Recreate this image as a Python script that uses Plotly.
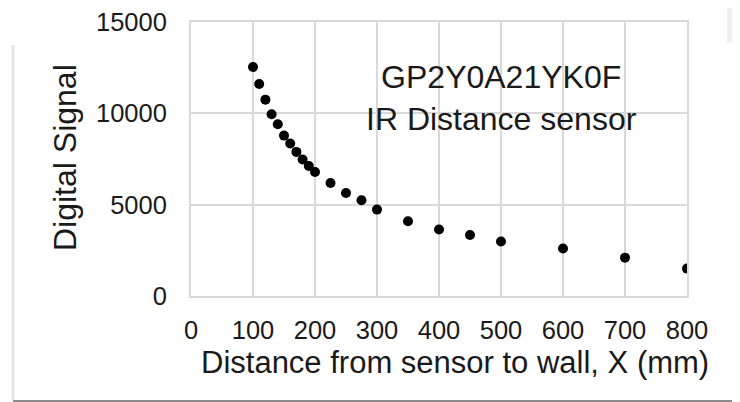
import plotly.graph_objects as go

# sensor readings (distance in mm, digital signal)
distance_mm = [100, 110, 120, 130, 140, 150, 160, 170, 180, 190, 200,
               225, 250, 275, 300, 350, 400, 450, 500, 600, 700, 800]
signal = [12540, 11610, 10750, 9950, 9400, 8780, 8350, 7890, 7470, 7120, 6790,
          6190, 5640, 5240, 4730, 4090, 3640, 3340, 2980, 2600, 2100, 1500]

x_ticks = [0, 100, 200, 300, 400, 500, 600, 700, 800]
y_ticks = [0, 5000, 10000, 15000]
y_labels = ["0", "5000", "10000", "15000"]

# the page body adds an 8px margin, so the figure is shrunk and shifted by that
OFF = 8
W, H = 740 - OFF, 402 - OFF
L, R, T, B = 191 - OFF, 53, 22 - OFF, 106
FONT = "Liberation Sans, Arial, sans-serif"


def px(x):
    return (x - OFF - L) / (W - L - R)


def py(y):
    return (H - B - (y - OFF)) / (H - T - B)


fig = go.Figure()
fig.add_scatter(x=distance_mm, y=signal, mode="markers",
                marker=dict(color="black", size=10), showlegend=False)

grid = "#d9d9d9"
fig.update_xaxes(range=[0, 800], tickvals=x_ticks, showgrid=True, gridcolor=grid,
                 gridwidth=2, showline=True, linecolor=grid, linewidth=2, mirror=True,
                 zeroline=False, ticklabelstandoff=10, automargin=False,
                 ticklabeloverflow="allow",
                 tickfont=dict(size=25.5, color="#1a1a1a"))
fig.update_yaxes(range=[0, 15000], tickvals=y_ticks, ticktext=y_labels, showgrid=True,
                 gridcolor=grid, gridwidth=2, showline=True, linecolor=grid, linewidth=2,
                 mirror=True, zeroline=False, ticklabelstandoff=17, automargin=False,
                 ticklabeloverflow="allow",
                 tickfont=dict(size=25.5, color="#1a1a1a"))

# white box behind the text label
fig.add_shape(type="rect", xref="paper", yref="paper", layer="between",
              x0=px(358), x1=px(645), y0=py(138), y1=py(57),
              fillcolor="white", line=dict(width=0))
# frame decorations from the screenshot
fig.add_shape(type="line", xref="paper", yref="paper",
              x0=px(13), x1=px(13), y0=py(45), y1=py(400),
              line=dict(color="#e6e6e6", width=3))
fig.add_shape(type="line", xref="paper", yref="paper",
              x0=px(13), x1=px(740), y0=py(401), y1=py(401),
              line=dict(color="#8c8c8c", width=2))
fig.add_shape(type="rect", xref="paper", yref="paper",
              x0=px(727), x1=px(740), y0=py(43), y1=py(8),
              fillcolor="#f0f0f0", line=dict(width=0))

fig.add_annotation(text="GP2Y0A21YK0F<br>IR Distance sensor", xref="paper", yref="paper",
                   x=px(501), y=py(97.5), xanchor="center", yanchor="middle",
                   showarrow=False, font=dict(size=32, color="#1a1a1a"))
fig.add_annotation(text="Distance from sensor to wall, X (mm)", xref="paper", yref="paper",
                   x=px(455), y=py(362), xanchor="center", yanchor="middle",
                   showarrow=False, font=dict(size=31, color="#1a1a1a"))
fig.add_annotation(text="Digital Signal", xref="paper", yref="paper", textangle=-90,
                   x=px(65), y=py(158), xanchor="center", yanchor="middle",
                   showarrow=False, font=dict(size=32, color="#1a1a1a"))

fig.update_layout(width=W, height=H, margin=dict(l=L, r=R, t=T, b=B),
                  paper_bgcolor="white", plot_bgcolor="white",
                  font=dict(family=FONT))
fig.write_html("out.html")
